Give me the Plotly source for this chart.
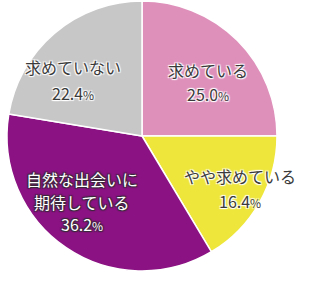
import plotly.graph_objects as go

categories = ["求めている", "やや求めている", "自然な出会いに期待している", "求めていない"]
values = [25.0, 16.4, 36.2, 22.4]
colors = ["#DE90BB", "#EEE63B", "#8A1282", "#C7C7C7"]
# label lines as displayed in the chart
label_lines = [["求めている"], ["やや求めている"], ["自然な出会いに", "期待している"], ["求めていない"]]

W, H = 320, 291

fig = go.Figure(go.Pie(
    labels=categories,
    values=values,
    sort=False,
    direction="clockwise",
    rotation=0,
    marker=dict(colors=colors, line=dict(color="white", width=1.5)),
    textinfo="none",
    hoverinfo="label+percent",
    domain=dict(x=[7 / W, 277 / W], y=[(H - 271) / H, (H - 1) / H]),
    showlegend=False,
))

# label block positions (pixel centers of first line) and line spacing
label_pos = [(208, 70, 24), (240, 176, 25), (82, 179, 22.5), (73, 67, 26)]
dark_halo = "1px 1px 1px white, -1px -1px 1px white, 1px -1px 1px white, -1px 1px 1px white"
white_halo = "1px 1px 1px #3a2a3a, -1px -1px 1px #3a2a3a, 1px -1px 1px #3a2a3a, -1px 1px 1px #3a2a3a"

annotations = []
for i, (lines, v) in enumerate(zip(label_lines, values)):
    x0, y0, dy = label_pos[i]
    on_dark = i == 2
    fcolor = "white" if on_dark else "#3a3a3a"
    shadow = white_halo if on_dark else dark_halo
    texts = lines + [f"{v:.1f}<span style='font-size:12px'>%</span>"]
    for j, t in enumerate(texts):
        annotations.append(dict(
            text=t, x=x0 / W, y=1 - (y0 + j * dy) / H, xref="paper", yref="paper",
            xanchor="center", yanchor="middle", showarrow=False,
            font=dict(family="Noto Sans CJK JP", size=16, color=fcolor, shadow=shadow),
        ))

fig.update_layout(
    width=W, height=H, margin=dict(l=0, r=0, t=0, b=0),
    paper_bgcolor="white", plot_bgcolor="white",
    annotations=annotations,
)

fig.write_html("out.html")
